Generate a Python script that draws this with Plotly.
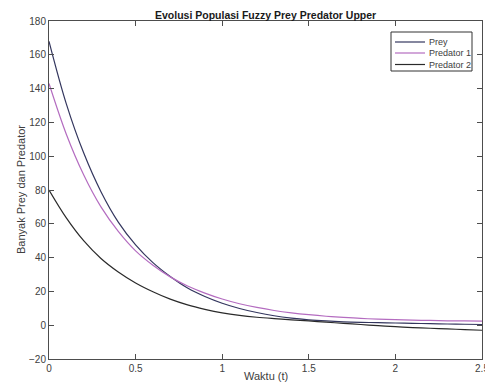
import plotly.graph_objects as go

t = [round(0.1 * i, 1) for i in range(26)]

prey = [168, 131, 102, 79, 61, 47.5, 37, 28.8, 22, 17, 13, 9.9, 7.5, 5.6, 4.2,
        3.2, 2.5, 2.0, 1.7, 1.5, 1.3, 1.1, 0.9, 0.7, 0.55, 0.4]
predator1 = [143, 113, 89, 70, 55.5, 44, 35.5, 28.6, 23.2, 19, 15.5, 12.7, 10.5,
             8.7, 7.3, 6.2, 5.3, 4.6, 4.0, 3.6, 3.3, 3.0, 2.8, 2.6, 2.5, 2.4]
predator2 = [80, 63.5, 50, 39.5, 31.5, 25, 19.8, 15.4, 12.0, 9.4, 7.3, 5.8, 4.7,
             3.9, 3.2, 2.5, 1.8, 1.1, 0.4, -0.3, -0.9, -1.4, -1.8, -2.2, -2.6, -3.0]

series_names = ["Prey", "Predator 1", "Predator 2"]
series_colors = ["#33365e", "#b46cc0", "#2a2a2a"]

x_ticks = [0, 0.5, 1, 1.5, 2, 2.5]
x_tick_labels = ["0", "0.5", "1", "1.5", "2", "2.5"]
y_ticks = list(range(-20, 181, 20))

title_text = "Evolusi Populasi Fuzzy Prey Predator Upper"
x_title = "Waktu (t)"
y_title = "Banyak Prey dan Predator"

W, H = 485, 390
ML, MR, MT, MB = 49, 3, 21, 31
PW, PH = W - ML - MR, H - MT - MB
FONT = "Liberation Sans, Arial"


def py(p):
    return (H - MB - p) / PH


def px(p):
    return (p - ML) / PW


fig = go.Figure()
for name, ys, col in zip(series_names, [prey, predator1, predator2], series_colors):
    fig.add_trace(go.Scatter(x=t, y=ys, mode="lines", name=name,
                             line=dict(color=col, width=1.2, shape="spline", smoothing=1.0)))

axis_common = dict(showline=True, linecolor="#4d4d4d", linewidth=1, mirror="ticks",
                   ticks="inside", ticklen=5, tickcolor="#4d4d4d", showgrid=False,
                   zeroline=False, ticklabeloverflow="allow", automargin=False,
                   tickfont=dict(family=FONT, size=10, color="#404040"))

# Legend drawn as box + sample lines + labels
shapes = [dict(type="rect", xref="paper", yref="paper",
               x0=px(391), x1=px(472), y0=py(32), y1=py(71),
               line=dict(color="#333333", width=1), fillcolor="white", layer="above")]
annotations = []
row_y = [42, 53, 64.5]
for name, col, ry in zip(series_names, series_colors, row_y):
    shapes.append(dict(type="line", xref="paper", yref="paper",
                       x0=px(395), x1=px(425), y0=py(ry), y1=py(ry),
                       line=dict(color=col, width=1.2), layer="above"))
    annotations.append(dict(text=name, x=px(427), y=py(ry), xref="paper", yref="paper",
                            xanchor="left", yanchor="middle", showarrow=False,
                            font=dict(family=FONT, size=9, color="#404040")))

annotations += [
    dict(text="<b>" + title_text + "</b>", x=0.5, xref="paper", y=py(15.5), yref="paper",
         xanchor="center", yanchor="middle", showarrow=False,
         font=dict(family=FONT, size=10.5, color="#1a1a1a")),
    dict(text=x_title, x=0.5, xref="paper", y=py(376), yref="paper",
         xanchor="center", yanchor="middle", showarrow=False,
         font=dict(family=FONT, size=11, color="#404040")),
    dict(text=y_title, x=px(21), xref="paper", y=0.5, yref="paper",
         xanchor="center", yanchor="middle", showarrow=False, textangle=-90,
         font=dict(family=FONT, size=11, color="#404040")),
]

fig.update_layout(
    width=W, height=H,
    margin=dict(l=ML, r=MR, t=MT, b=MB, autoexpand=False),
    paper_bgcolor="white", plot_bgcolor="white",
    showlegend=False,
    xaxis=dict(range=[0, 2.5], tickvals=x_ticks, ticktext=x_tick_labels, **axis_common),
    yaxis=dict(range=[-20, 180], tickvals=y_ticks, **axis_common),
    shapes=shapes,
    annotations=annotations,
)
fig.write_html("out.html")
